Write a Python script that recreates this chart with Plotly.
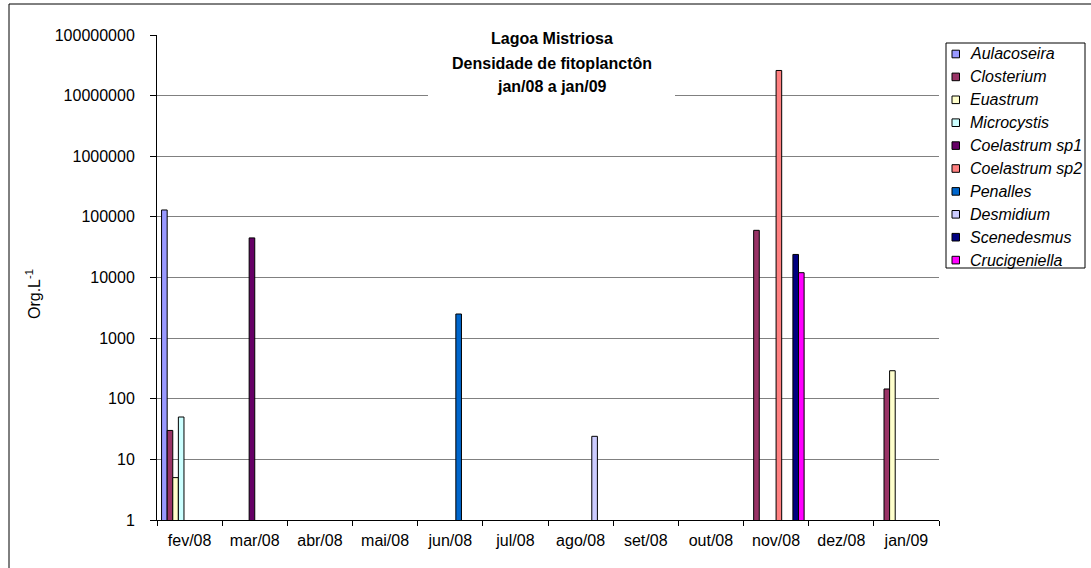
import plotly.graph_objects as go

# ---------------- data ----------------
months = ["fev/08", "mar/08", "abr/08", "mai/08", "jun/08", "jul/08",
          "ago/08", "set/08", "out/08", "nov/08", "dez/08", "jan/09"]

species = ["Aulacoseira", "Closterium", "Euastrum", "Microcystis",
           "Coelastrum sp1", "Coelastrum sp2", "Penalles", "Desmidium",
           "Scenedesmus", "Crucigeniella"]

aulacoseira    = [130000, None, None, None, None, None, None, None, None, None, None, None]
closterium     = [30, None, None, None, None, None, None, None, None, 60000, None, 145]
euastrum       = [5, None, None, None, None, None, None, None, None, None, None, 290]
microcystis    = [50, None, None, None, None, None, None, None, None, None, None, None]
coelastrum_sp1 = [None, 45000, None, None, None, None, None, None, None, None, None, None]
coelastrum_sp2 = [None, None, None, None, None, None, None, None, None, 26000000, None, None]
penalles       = [None, None, None, None, 2500, None, None, None, None, None, None, None]
desmidium      = [None, None, None, None, None, None, 24, None, None, None, None, None]
scenedesmus    = [None, None, None, None, None, None, None, None, None, 24000, None, None]
crucigeniella  = [None, None, None, None, None, None, None, None, None, 12000, None, None]

series_values = [aulacoseira, closterium, euastrum, microcystis, coelastrum_sp1,
                 coelastrum_sp2, penalles, desmidium, scenedesmus, crucigeniella]

y_tick_values = [1, 10, 100, 1000, 10000, 100000, 1000000, 10000000, 100000000]
y_tick_labels = ["1", "10", "100", "1000", "10000", "100000", "1000000",
                 "10000000", "100000000"]

title_lines = ["Lagoa Mistriosa", "Densidade de fitoplanctôn", "jan/08 a jan/09"]

# ---------------- styles ----------------
colors = ["#9999FF", "#993366", "#FFFFCC", "#CCFFFF", "#660066",
          "#FF8080", "#0066CC", "#CCCCFF", "#000080", "#FF00FF"]
FONT = "Liberation Sans, Arial, sans-serif"

W, H = 1091, 568
L, R, T, B = 157, 152, 35, 48
PW, PH = W - L - R, H - T - B


def px(xp):
    return (xp - L) / PW


def py(yp):
    return (H - B - yp) / PH


fig = go.Figure()
for name, vals, col in zip(species, series_values, colors):
    fig.add_trace(go.Bar(
        x=months, y=vals, name=name,
        marker=dict(color=col, line=dict(color="black", width=1)),
        showlegend=False,
    ))

shapes = []
annotations = []

# title box
shapes.append(dict(type="rect", xref="paper", yref="paper",
                   x0=px(428), x1=px(675), y0=py(102), y1=py(27),
                   fillcolor="white", line=dict(width=0), layer="above"))
for i, line in enumerate(title_lines):
    annotations.append(dict(xref="paper", yref="paper", x=px(551.5), y=py(39 + 24 * i),
                            text="<b>%s</b>" % line, showarrow=False,
                            xanchor="center", yanchor="middle",
                            font=dict(family=FONT, size=16, color="black")))

# legend (custom)
shapes.append(dict(type="rect", xref="paper", yref="paper",
                   x0=px(946), x1=px(1085), y0=py(268), y1=py(43),
                   fillcolor="white", line=dict(color="black", width=1), layer="above"))
for i, (name, col) in enumerate(zip(species, colors)):
    yc = 54 + 22.9 * i
    shapes.append(dict(type="rect", xref="paper", yref="paper",
                       x0=px(952), x1=px(959.5), y0=py(yc + 3.8), y1=py(yc - 3.8),
                       fillcolor=col, line=dict(color="black", width=1), layer="above"))
    annotations.append(dict(xref="paper", yref="paper", x=px(968), y=py(yc),
                            text="<i>%s</i>" % name, showarrow=False,
                            xanchor="left", yanchor="middle",
                            font=dict(family=FONT, size=16, color="black")))

# y axis title
annotations.append(dict(xref="paper", yref="paper", x=px(33), y=py(294),
                        text="Org.L<sup>-1</sup>", showarrow=False, textangle=-90,
                        xanchor="center", yanchor="middle",
                        font=dict(family=FONT, size=16, color="black")))

# outer chart border (left and top)
shapes.append(dict(type="line", xref="paper", yref="paper",
                   x0=px(9), x1=px(9), y0=py(4), y1=py(570),
                   line=dict(color="black", width=1)))
shapes.append(dict(type="line", xref="paper", yref="paper",
                   x0=px(9), x1=px(1095), y0=py(4), y1=py(4),
                   line=dict(color="black", width=1)))

fig.update_layout(
    width=W, height=H, autosize=False,
    margin=dict(l=L, r=R, t=T, b=B, pad=0),
    paper_bgcolor="white", plot_bgcolor="white",
    barmode="group", bargap=0.14, bargroupgap=0,
    font=dict(family=FONT, size=16, color="black"),
    shapes=shapes, annotations=annotations,
    showlegend=False,
)
fig.update_xaxes(
    type="category", categoryorder="array", categoryarray=months,
    range=[-0.5, len(months) - 0.5],
    showline=True, linecolor="black", linewidth=1,
    ticks="outside", tickson="boundaries", ticklen=5, tickcolor="black",
    showgrid=False, ticklabelstandoff=6,
    tickfont=dict(family=FONT, size=16, color="black"),
)
fig.update_yaxes(
    type="log", range=[0, 8],
    tickvals=y_tick_values, ticktext=y_tick_labels,
    showline=True, linecolor="black", linewidth=1,
    ticks="outside", ticklen=6, tickcolor="black",
    showgrid=True, gridcolor="#808080", gridwidth=1,
    zeroline=False, ticklabelstandoff=12,
    tickfont=dict(family=FONT, size=16, color="black"),
)

fig.write_html("out.html")
